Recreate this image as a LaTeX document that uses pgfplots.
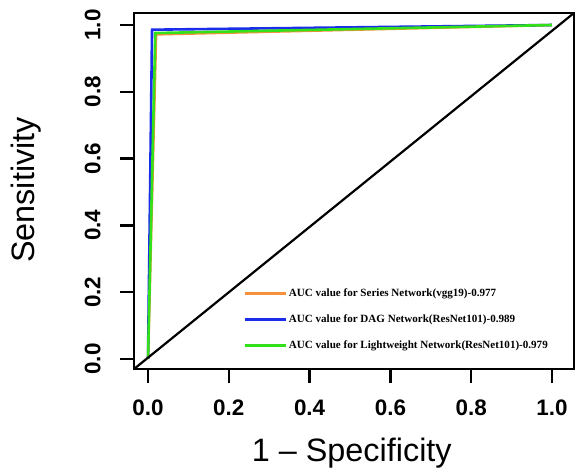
\documentclass[border=0pt]{standalone}
\usepackage{pgfplots}
\pgfplotsset{compat=1.18}
\usepackage{fontspec}
\setmainfont{Liberation Serif}
\setsansfont{Liberation Sans}
\definecolor{rocorange}{RGB}{245,145,60}
\definecolor{rocblue}{RGB}{25,45,235}
\definecolor{rocgreen}{RGB}{50,225,25}

\begin{document}
\begin{tikzpicture}
\useasboundingbox (0,0) rectangle (576bp,470bp);
\begin{axis}[
    at={(134bp,101bp)},
    anchor=south west,
    scale only axis,
    width=440bp,
    height=356bp,
    xmin=-0.0347, xmax=1.0545,
    ymin=-0.030, ymax=1.036,
    xtick={0,0.2,...,1.0},
    ytick={0,0.2,...,1.0},
    xticklabels={0.0,0.2,0.4,0.6,0.8,1.0},
    yticklabels={0.0,0.2,0.4,0.6,0.8,1.0},
    xtick pos=left, ytick pos=left,
    tick align=outside,
    major tick length=14bp,
    major tick style={draw=black, line width=2.4bp},
    axis line style={line width=2bp},
    ticklabel style={font=\fontsize{22.5}{24}\selectfont\sffamily\bfseries},
    /pgf/number format/assume math mode=true,
    xticklabel style={yshift=-13bp},
    yticklabel style={xshift=-16bp, rotate=90, anchor=south},
    xlabel={1 -- Specificity},
    ylabel={Sensitivity},
    label style={font=\fontsize{32.5}{34}\selectfont\sffamily},
    xlabel style={at={(axis description cs:0.495,-0.236)}, anchor=center},
    ylabel style={at={(axis description cs:-0.245,0.503)}, anchor=center, rotate=0},
    clip=true,
    legend style={
        at={(0.248,0.232)}, anchor=north west,
        draw=none, fill=none, inner sep=0pt,
        font=\fontsize{11.1}{13}\selectfont\bfseries,
        row sep=13bp,
    },
    legend cell align=left,
    legend image code/.code={
        \draw[#1, line width=1.8bp] (0bp,0bp) -- (32bp,0bp);
        \path (0bp,0bp) -- (41bp,0bp);
    },
]
\addplot[rocorange, line width=2.6bp] coordinates {(0,0) (0.020,0.972) (1,1)};
\addplot[rocblue, line width=2.6bp] coordinates {(0,0) (0.010,0.986) (1,1)};
\addplot[rocgreen, line width=2.6bp] coordinates {(0,0) (0.018,0.976) (1,1)};
\addplot[black, line width=2.2bp, forget plot] coordinates {(-0.0347,-0.030) (1.0545,1.036)};
\legend{AUC value for Series Network(vgg19)-0.977,
        AUC value for DAG Network(ResNet101)-0.989,
        AUC value for Lightweight Network(ResNet101)-0.979}
\end{axis}
\end{tikzpicture}
\end{document}
